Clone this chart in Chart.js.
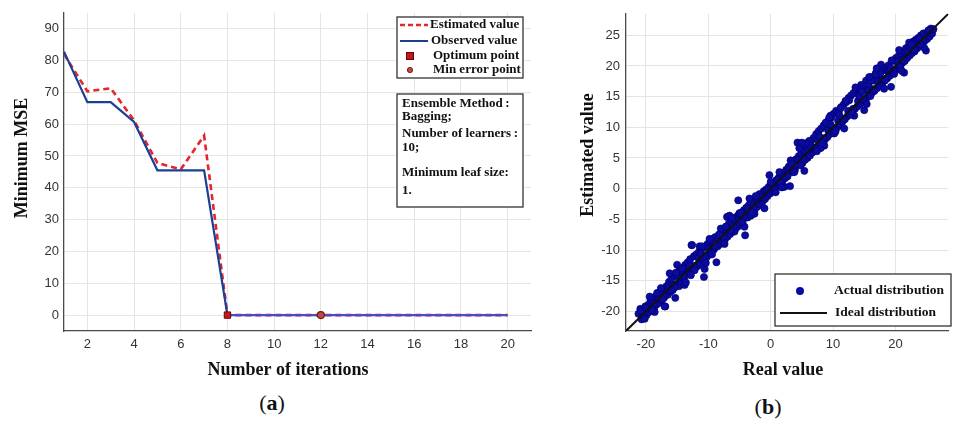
<!DOCTYPE html>
<html>
<head>
<meta charset="utf-8">
<script src="https://cdn.jsdelivr.net/npm/chart.js@4.4.1/dist/chart.umd.min.js"></script>
<style>
  html, body { margin: 0; padding: 0; background: #fff; }
  #wrap { position: relative; width: 953px; height: 422px; overflow: hidden; }
  canvas { position: absolute; top: 0; }
  .panel-label { position: absolute; width: 60px; text-align: center; font: 22px 'Liberation Serif', 'Times New Roman', serif; line-height: 26px; color: #111; }
</style>
</head>
<body>
<div id="wrap">
  <canvas id="mseChart" width="545" height="390" style="left:0;width:545px;height:390px"></canvas>
  <canvas id="scatterChart" width="413" height="390" style="left:540px;width:413px;height:390px"></canvas>
  <div class="panel-label" style="left:242px;top:390px">(<b>a</b>)</div>
  <div class="panel-label" style="left:738px;top:394px">(<b>b</b>)</div>
</div>
<script>
// (a) minimum MSE per iteration
const iterations = [1, 2, 3, 4, 5, 6, 7, 8, 9, 10, 11, 12, 13, 14, 15, 16, 17, 18, 19, 20];
const observedMSE = [82.8, 66.9, 66.9, 60.7, 45.5, 45.5, 45.5, 0, 0, 0, 0, 0, 0, 0, 0, 0, 0, 0, 0, 0];
const estimatedMSE = [82.0, 70.3, 71.3, 61.2, 47.8, 45.8, 56.4, 0, 0, 0, 0, 0, 0, 0, 0, 0, 0, 0, 0, 0];
const optimumIter = [8];
const optimumMSE = [0];
const minErrorIter = [12];
const minErrorMSE = [0];
const mseXTicks = [2, 4, 6, 8, 10, 12, 14, 16, 18, 20];
const mseYTicks = [0, 10, 20, 30, 40, 50, 60, 70, 80, 90];

// (b) real vs estimated values
const realValue = [
  -21.2, -20.9, -20.7, -20.5, -20.3, -20.1, -19.9, -19.7, -19.5, -19.3, -19.1, -18.9, -18.7, -18.5, -18.3, -18.1, -17.9, -17.7, -17.5, -17.3,
  -17.1, -16.9, -16.7, -16.5, -16.3, -16.1, -15.9, -15.7, -15.5, -15.3, -15.1, -14.9, -14.7, -14.5, -14.3, -14.1, -13.9, -13.7, -13.5, -13.3,
  -13.1, -12.9, -12.7, -12.5, -12.3, -12.1, -11.9, -11.7, -11.5, -11.3, -11.1, -10.9, -10.7, -10.5, -10.3, -10.1, -9.9, -9.7, -9.5, -9.3,
  -9.1, -8.9, -8.7, -8.5, -8.3, -8.1, -7.9, -7.7, -7.5, -7.3, -7.1, -6.9, -6.7, -6.5, -6.3, -6.1, -5.9, -5.7, -5.5, -5.3,
  -5.1, -4.9, -4.7, -4.5, -4.3, -4.1, -3.9, -3.7, -3.5, -3.3, -3.1, -2.9, -2.7, -2.5, -2.3, -2.1, -1.9, -1.7, -1.5, -1.3,
  -1.1, -0.9, -0.7, -0.5, -0.3, -0.1, 0.1, 0.3, 0.5, 0.7, 0.9, 1.1, 1.3, 1.5, 1.7, 1.9, 2.1, 2.3, 2.5, 2.7,
  2.9, 3.1, 3.3, 3.5, 3.7, 3.9, 4.1, 4.3, 4.5, 4.7, 4.9, 5.1, 5.3, 5.5, 5.7, 5.9, 6.1, 6.3, 6.5, 6.7,
  6.9, 7.1, 7.3, 7.5, 7.7, 7.9, 8.1, 8.3, 8.5, 8.7, 8.9, 9.1, 9.3, 9.5, 9.7, 9.9, 10.1, 10.3, 10.5, 10.7,
  10.9, 11.1, 11.3, 11.5, 11.7, 11.9, 12.1, 12.3, 12.5, 12.7, 12.9, 13.1, 13.3, 13.5, 13.7, 13.9, 14.1, 14.3, 14.5, 14.7,
  14.9, 15.1, 15.3, 15.5, 15.7, 15.9, 16.1, 16.3, 16.5, 16.7, 16.9, 17.1, 17.3, 17.5, 17.7, 17.9, 18.1, 18.3, 18.5, 18.7,
  18.9, 19.1, 19.3, 19.5, 19.7, 19.9, 20.1, 20.3, 20.5, 20.7, 20.9, 21.1, 21.3, 21.5, 21.7, 21.9, 22.1, 22.3, 22.5, 22.7,
  22.9, 23.1, 23.3, 23.5, 23.7, 23.9, 24.1, 24.3, 24.5, 24.7, 24.9, 25.1, 25.3, 25.5, 25.7, 25.9, 26.1, -12.6, -15.0, -7.0,
  -20.4, -19.6, -18.8, -18.0, -17.2, -16.4, -15.6, -14.8, -14.0, -13.2, -12.4, -11.6, -10.8, -10.0, -9.2, -8.4, -7.6, -6.8, -6.0, -5.2,
  -4.4, -3.6, -2.8, -2.0, -1.2, -0.4, 0.4, 1.2, 2.0, 2.8, 3.6, 4.4, 5.2, 6.0, 6.8, 7.6, 8.4, 9.2, 10.0, 10.8,
  11.6, 12.4, 13.2, 14.0, 14.8, 15.6, 16.4, 17.2, 18.0, 18.8, 19.6, 20.4, 21.2, 22.0, 22.8, 23.6, 24.4, 25.2, 9.6, 13.6,
  -20.8, -20.2, -19.4, -18.6, -17.8, -17.0, -16.2, -15.4, -14.6, -13.8, -13.0, -12.2, -11.4, -10.6, -9.8, -9.0, -8.2, -7.4, -6.6, -5.8,
  -5.0, -4.2, -3.4, -2.6, -1.8, -1.0, -0.2, 0.6, 1.4, 2.2, 3.0, 3.8, 4.6, 5.4, 6.2, 7.0, 7.8, 8.6, 9.4, 10.2,
  11.0, 11.8, 12.6, 13.4, 14.2, 15.0, 15.8, 16.6, 17.4, 18.2, 19.0, 19.8, 20.6, 21.4, 22.2, 23.0, 23.8, 24.6, 25.4, -18.2,
  -19.0, -17.6, -16.0, -14.4, -12.8, -11.2, -9.6, -8.0, -6.4, -4.8, -3.2, -1.6, 0.0, 1.6, 3.2, 4.8, 6.4, 8.0, 9.6, 11.2,
  12.8, 14.4, 16.0, 17.6, 19.2, 20.8, 22.4, 24.0, -20.0, -17.4, -15.2, -13.6, -11.0, -9.4, -7.2, -4.6, -2.4, 0.8, 3.4, 5.6,
  7.4, 8.8, 10.4, 12.0, 13.0, 14.6, 15.4, 16.8, 18.4, 19.4, 21.0, 22.6, -14.2, -10.4, -6.2, -3.0, 1.8, 5.0, 8.2, 17.0
];
const estimatedValue = [
  -20.4, -19.6, -21.3, -19.9, -20.8, -19.2, -20.6, -19.0, -20.1, -18.4, -19.7, -18.2, -19.5, -17.6, -18.9, -17.3, -18.6, -16.9, -18.2, -16.5,
  -17.8, -19.2, -15.9, -17.3, -15.2, -16.8, -14.7, -16.5, -14.1, -17.8, -15.6, -13.8, -15.9, -13.2, -15.1, -12.9, -14.6, -12.4, -13.9, -12.0,
  -13.6, -11.5, -9.2, -13.3, -11.0, -12.8, -10.7, -12.6, -10.3, -12.1, -9.9, -11.6, -14.4, -9.4, -11.2, -9.0, -10.8, -8.6, -10.4, -8.2,
  -9.9, -7.9, -12.0, -9.4, -7.5, -9.0, -7.1, -8.6, -6.6, -8.2, -6.2, -7.8, -5.7, -7.4, -5.4, -7.0, -5.0, -6.6, -4.6, -6.2,
  -4.2, -5.8, -3.9, -5.4, -3.5, -7.6, -3.1, -4.7, -2.7, -4.2, -2.4, -3.8, -1.9, -3.3, -1.6, -2.9, -1.2, -2.5, -0.9, -2.1,
  -0.4, -1.7, -0.1, -1.2, 0.3, -0.8, 0.6, -0.4, 1.0, 0.1, 1.4, 0.5, 1.8, 0.9, 2.3, 1.3, 2.6, 1.7, 3.1, 2.0,
  3.6, 0.4, 3.9, 2.7, 4.5, 3.1, 4.8, 7.5, 5.3, 3.9, 5.7, 4.2, 6.3, 4.7, 6.8, 5.0, 7.2, 5.4, 7.8, 5.9,
  8.3, 6.3, 8.9, 6.6, 9.4, 7.0, 9.8, 7.5, 10.3, 8.0, 10.8, 8.4, 11.2, 8.9, 11.6, 9.3, 12.2, 9.6, 12.7, 10.0,
  12.4, 10.5, 13.3, 10.9, 13.7, 11.3, 14.1, 11.8, 14.8, 12.1, 15.2, 12.6, 15.6, 13.0, 16.2, 13.4, 15.4, 13.8, 16.9, 14.1,
  16.3, 14.5, 17.6, 14.9, 16.8, 15.4, 18.2, 15.7, 17.6, 16.1, 18.9, 16.4, 18.5, 16.9, 20.2, 17.2, 19.3, 17.6, 19.7, 18.0,
  20.1, 18.4, 16.6, 18.9, 20.8, 19.2, 21.3, 19.6, 21.6, 20.1, 22.0, 20.5, 22.4, 20.8, 22.9, 21.3, 23.1, 21.7, 23.6, 22.1,
  24.0, 22.4, 24.3, 22.9, 24.6, 23.3, 25.0, 23.6, 25.3, 24.1, 22.5, 24.4, 25.8, 24.8, 26.1, 25.3, 26.0, -9.2, -12.4, -4.6,
  -20.6, -19.3, -18.9, -17.7, -17.4, -16.1, -15.8, -14.5, -14.2, -12.9, -12.6, -11.3, -11.0, -9.7, -9.4, -8.1, -7.8, -6.5, -6.2, -1.9,
  -4.6, -3.3, -3.0, -1.7, -1.4, -0.1, 0.2, 1.5, 1.8, 3.1, 3.4, 4.7, 5.0, 6.3, 6.6, 7.9, 8.2, 9.5, 9.8, 11.1,
  11.4, 12.7, 13.0, 14.3, 14.6, 15.9, 16.2, 17.5, 17.8, 19.1, 19.4, 20.7, 21.0, 22.3, 22.6, 23.9, 24.2, 25.5, 11.9, 16.5,
  -19.9, -21.2, -17.6, -20.1, -16.9, -19.2, -13.8, -16.1, -13.3, -15.7, -12.6, -13.3, -9.4, -13.1, -8.2, -9.3, -7.5, -9.0, -4.4, -7.0,
  -4.0, -6.2, -1.6, -4.1, -0.9, -3.2, 2.2, -0.1, 2.7, 0.3, 3.4, 2.7, 6.6, 2.9, 7.8, 6.7, 8.5, 7.0, 11.6, 9.0,
  12.0, 9.8, 14.4, 11.9, 15.1, 12.8, 18.2, 15.9, 18.7, 16.3, 19.4, 18.7, 22.6, 18.9, 23.8, 22.7, 24.5, 23.0, 25.8, -17.0,
  -19.8, -16.2, -16.5, -13.3, -14.1, -10.6, -10.5, -6.5, -6.8, -4.0, -4.4, -1.3, 1.1, 1.0, 4.6, 3.8, 6.9, 6.6, 10.5, 13.1,
  12.1, 16.1, 15.1, 18.8, 19.6, 19.8, 23.2, 23.5, -19.4, -18.0, -13.7, -15.3, -9.4, -10.7, -6.2, -5.4, -1.2, -0.6, 4.1, 7.4,
  6.1, 10.7, 9.3, 14.3, 12.5, 15.8, 13.8, 18.6, 17.8, 20.9, 19.2, 23.5, -13.0, -12.1, -4.8, -3.9, 0.2, 7.5, 7.4, 19.6
];
const valueRange = [-23.2, 28.5];
const realTicks = [-20, -10, 0, 10, 20];
const estTicks = [-20, -15, -10, -5, 0, 5, 10, 15, 20, 25];

Chart.defaults.font.family = "'Liberation Sans', Arial, sans-serif";
Chart.defaults.font.size = 13;
Chart.defaults.color = '#333';
Chart.defaults.animation = false;

const serifBold = (size) => `bold ${size}px 'Liberation Serif', 'Times New Roman', serif`;
const gridColor = '#e4e4e4';
const axisColor = '#4a4a4a';

function pairs(xs, ys) {
    return xs.map((x, i) => ({ x: x, y: ys[i] }));
}

function fixedTicks(values) {
    return (scale) => { scale.ticks = values.map(v => ({ value: v })); };
}

function axisTitle(ctx, text, x, y, rotate) {
    ctx.save();
    ctx.translate(x, y);
    if (rotate) ctx.rotate(-Math.PI / 2);
    ctx.font = serifBold(18);
    ctx.fillStyle = '#111';
    ctx.textAlign = 'center';
    ctx.textBaseline = 'middle';
    ctx.fillText(text, 0, 0);
    ctx.restore();
}

function box(ctx, x, y, w, h) {
    ctx.save();
    ctx.fillStyle = '#fff';
    ctx.fillRect(x, y, w, h);
    ctx.strokeStyle = '#333';
    ctx.lineWidth = 1.3;
    ctx.strokeRect(x, y, w, h);
    ctx.restore();
}

// titles, legend and the model settings box for panel (a)
const mseOverlay = {
    id: 'mseOverlay',
    afterDraw(chart) {
        const ctx = chart.ctx;
        axisTitle(ctx, 'Minimum MSE', 22, 158, true);
        axisTitle(ctx, 'Number of iterations', 288, 370, false);

        box(ctx, 397, 17, 126, 61);
        ctx.save();
        ctx.lineWidth = 2.5;
        ctx.strokeStyle = '#e3262b';
        ctx.setLineDash([5, 3]);
        ctx.beginPath(); ctx.moveTo(400, 25); ctx.lineTo(428, 25); ctx.stroke();
        ctx.setLineDash([]);
        ctx.strokeStyle = '#1c3f94';
        ctx.lineWidth = 2;
        ctx.beginPath(); ctx.moveTo(400, 41); ctx.lineTo(428, 41); ctx.stroke();
        ctx.fillStyle = '#c8141c';
        ctx.strokeStyle = '#5a0a0a';
        ctx.lineWidth = 1;
        ctx.fillRect(406.5, 52.5, 7, 7);
        ctx.strokeRect(406.5, 52.5, 7, 7);
        ctx.fillStyle = '#c04a40';
        ctx.strokeStyle = '#7a1a14';
        ctx.beginPath(); ctx.arc(410, 70, 2.6, 0, Math.PI * 2); ctx.fill(); ctx.stroke();

        ctx.font = serifBold(13);
        ctx.fillStyle = '#111';
        ctx.textBaseline = 'middle';
        ctx.fillText('Estimated value', 430, 25);
        ctx.fillText('Observed value', 431, 41);
        ctx.fillText('Optimum point', 433, 56);
        ctx.fillText('Min error point', 433, 70);
        ctx.restore();

        box(ctx, 397, 94, 126, 113);
        ctx.save();
        ctx.font = serifBold(13);
        ctx.fillStyle = '#111';
        ctx.textBaseline = 'middle';
        const lines = [['Ensemble Method\u2009:', 104], ['Bagging;', 117], ['Number of learners\u2009:', 134], ['10;', 148], ['Minimum leaf size:', 173], ['1.', 191]];
        lines.forEach(([t, y]) => ctx.fillText(t, 402, y));
        ctx.restore();
    }
};

// titles and legend for panel (b)
const scatterOverlay = {
    id: 'scatterOverlay',
    afterDraw(chart) {
        const ctx = chart.ctx;
        axisTitle(ctx, 'Estimated value', 48, 155, true);
        axisTitle(ctx, 'Real value', 243, 370, false);

        box(ctx, 235, 274, 176, 52);
        ctx.save();
        ctx.fillStyle = '#0a0aa0';
        ctx.beginPath(); ctx.arc(260, 291, 4, 0, Math.PI * 2); ctx.fill();
        ctx.strokeStyle = '#111';
        ctx.lineWidth = 2;
        ctx.beginPath(); ctx.moveTo(240, 313); ctx.lineTo(287, 313); ctx.stroke();
        ctx.font = serifBold(13.5);
        ctx.fillStyle = '#111';
        ctx.textBaseline = 'middle';
        ctx.fillText('Actual distribution', 294, 291);
        ctx.fillText('Ideal distribution', 295, 313);
        ctx.restore();
    }
};

const mseCtx = document.getElementById('mseChart');
if (mseCtx) {
    new Chart(mseCtx, {
        type: 'scatter',
        data: {
            datasets: [{
                label: 'Optimum point',
                data: pairs(optimumIter, optimumMSE),
                pointStyle: 'rect',
                pointRadius: 4.5,
                backgroundColor: '#d0141c',
                borderColor: '#5a0a0a',
                borderWidth: 1,
                order: 0
            }, {
                label: 'Min error point',
                data: pairs(minErrorIter, minErrorMSE),
                pointRadius: 3.5,
                backgroundColor: '#c04a40',
                borderColor: '#6a1a14',
                borderWidth: 1.2,
                order: 0
            }, {
                label: 'Observed value',
                data: pairs(iterations, observedMSE),
                showLine: true,
                borderColor: '#1c3f94',
                borderWidth: 2.2,
                pointRadius: 0,
                segment: {
                    // flat tail after the optimum reads lighter
                    borderColor: (c) => c.p0.parsed.x >= 8 ? '#4a4cc4' : undefined
                },
                order: 1
            }, {
                label: 'Estimated value',
                data: pairs(iterations, estimatedMSE),
                showLine: true,
                borderColor: '#e3262b',
                borderWidth: 2.6,
                borderDash: [6, 4],
                pointRadius: 0,
                order: 2
            }]
        },
        options: {
            responsive: false,
            layout: { padding: { top: 8, right: 14, left: 0, bottom: 0 } },
            plugins: { legend: { display: false }, tooltip: { enabled: false } },
            scales: {
                x: {
                    type: 'linear', min: 1, max: 21,
                    afterBuildTicks: fixedTicks(mseXTicks),
                    afterFit: (s) => { s.height = 59; },
                    grid: { color: gridColor, drawTicks: false },
                    border: { color: axisColor, width: 1.3 },
                    ticks: { padding: 6 }
                },
                y: {
                    min: -5, max: 95,
                    afterBuildTicks: fixedTicks(mseYTicks),
                    afterFit: (s) => { s.width = 64; },
                    grid: { color: gridColor, drawTicks: false },
                    border: { color: axisColor, width: 1.3 },
                    ticks: { padding: 5 }
                }
            }
        },
        plugins: [mseOverlay]
    });
}

const scatterCtx = document.getElementById('scatterChart');
if (scatterCtx) {
    new Chart(scatterCtx, {
        type: 'scatter',
        data: {
            datasets: [{
                label: 'Ideal distribution',
                data: pairs(valueRange, valueRange),
                showLine: true,
                borderColor: '#111',
                borderWidth: 2,
                pointRadius: 0,
                order: 0
            }, {
                label: 'Actual distribution',
                data: pairs(realValue, estimatedValue),
                pointRadius: 3.6,
                backgroundColor: '#0b0ba0',
                borderColor: '#00006a',
                borderWidth: 0.6,
                order: 1
            }]
        },
        options: {
            responsive: false,
            layout: { padding: { top: 5, right: 1, left: 0, bottom: 0 } },
            plugins: { legend: { display: false }, tooltip: { enabled: false } },
            scales: {
                x: {
                    type: 'linear', min: valueRange[0], max: valueRange[1],
                    afterBuildTicks: fixedTicks(realTicks),
                    afterFit: (s) => { s.height = 59; },
                    grid: { color: gridColor, drawTicks: false },
                    border: { color: axisColor, width: 1.3 },
                    ticks: { padding: 6 }
                },
                y: {
                    min: valueRange[0], max: valueRange[1],
                    afterBuildTicks: fixedTicks(estTicks),
                    afterFit: (s) => { s.width = 86; },
                    grid: { color: gridColor, drawTicks: false },
                    border: { color: axisColor, width: 1.3 },
                    ticks: { padding: 6 }
                }
            }
        },
        plugins: [scatterOverlay]
    });
}
</script>
</body>
</html>
